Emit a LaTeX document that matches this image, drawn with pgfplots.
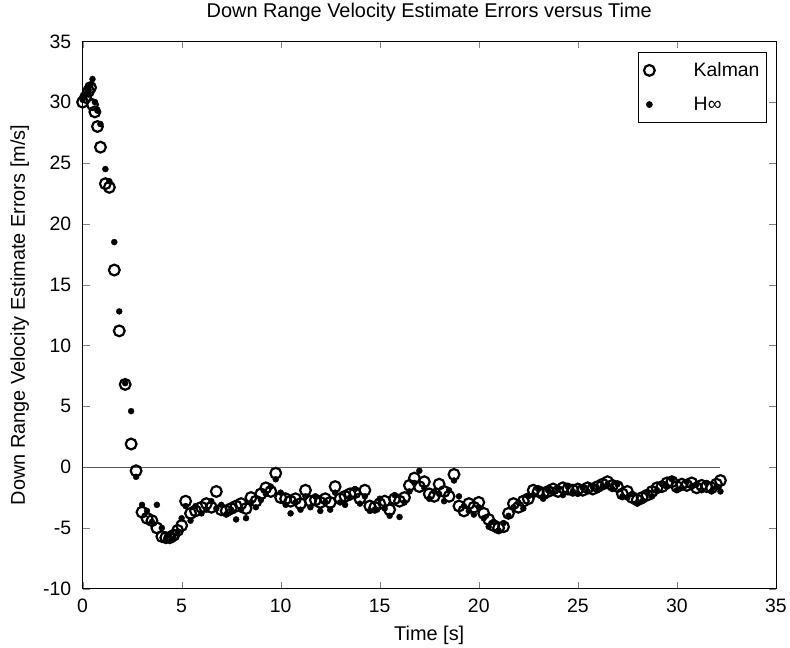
\documentclass[border=0pt]{standalone}
\usepackage{pgfplots}
\pgfplotsset{compat=1.18}
\usepackage{fontspec}
\setmainfont{Liberation Sans}
\begin{document}
\begin{tikzpicture}
\begin{axis}[
  scale only axis,
  width=694bp, height=548bp,
  xmin=0, xmax=35, ymin=-10, ymax=35,
  xtick={0,5,...,35}, ytick={-10,-5,...,35},
  tick align=inside,
  tick pos=both,
  major tick length=7bp,
  axis line style={line width=0.7pt},
  /pgf/number format/assume math mode=true,
  ticklabel style={font=\fontsize{19.5}{21}\selectfont},
  xticklabel style={yshift=-7bp},
  yticklabel style={xshift=-8bp},
  label style={font=\fontsize{20}{22}\selectfont},
  title style={font=\fontsize{20}{22}\selectfont, yshift=10bp},
  title={Down Range Velocity Estimate Errors versus Time},
  xlabel={Time [s]},
  ylabel={Down Range Velocity Estimate Errors [m/s]},
  xlabel style={yshift=-6bp},
  ylabel style={yshift=0bp, inner ysep=10.5bp},
  legend image code/.code={\draw[#1] plot coordinates {(0bp,0bp)};},
  legend style={at={(0.987,0.98)}, anchor=north east, draw=black, line width=0.7pt,
    font=\fontsize{19.5}{21}\selectfont, row sep=15bp, inner xsep=6bp, inner ysep=8bp,
    nodes={inner xsep=1bp},
    /tikz/every odd column/.append style={column sep=38bp},
    cells={anchor=west}},
  legend cell align=left,
]
\addplot[gray!70!black, line width=0.7pt, forget plot] coordinates {(0,0) (32.2,0)};
\addplot[only marks, mark=o, mark size=5.4bp, mark options={line width=2.2pt, black}] coordinates {
(0,30.0) (0.15,30.4) (0.3,30.9) (0.4,31.2) (0.5,29.8) (0.62,29.2) (0.75,28.0) (0.9,26.3)
(1.15,23.3) (1.35,23.0) (1.6,16.2) (1.85,11.2) (2.15,6.8) (2.45,1.9) (2.7,-0.3)
(3.0,-3.7) (3.25,-4.2) (3.5,-4.4) (3.75,-5.0) (4.0,-5.7) (4.2,-5.8) (4.4,-5.8) (4.6,-5.6)
(4.8,-5.2) (5.0,-4.8) (5.2,-2.8) (5.45,-3.8) (5.7,-3.6) (6.0,-3.3) (6.25,-3.0) (6.5,-3.3)
(6.75,-2.0) (7.0,-3.5) (7.25,-3.6) (7.5,-3.4) (7.75,-3.2) (8.0,-3.0) (8.25,-3.4) (8.5,-2.5)
(8.75,-2.8) (9.0,-2.2) (9.25,-1.7) (9.5,-2.0) (9.75,-0.5) (10.0,-2.5) (10.25,-2.6) (10.5,-2.8)
(10.75,-2.6) (11.0,-3.0) (11.25,-1.9) (11.5,-2.8) (11.75,-2.7) (12.0,-2.9) (12.25,-2.6) (12.5,-2.9)
(12.75,-1.6) (13.0,-2.6) (13.25,-2.4) (13.5,-2.2) (13.75,-2.1) (14.0,-2.6) (14.25,-1.9) (14.5,-3.2)
(14.75,-3.3) (15.0,-3.0) (15.25,-2.8) (15.5,-3.5) (15.75,-2.6) (16.0,-2.8) (16.25,-2.5) (16.5,-1.5)
(16.75,-0.9) (17.0,-1.6) (17.25,-1.2) (17.5,-2.2) (17.75,-2.4) (18.0,-1.4) (18.25,-2.0) (18.5,-2.4)
(18.75,-0.6) (19.0,-3.2) (19.25,-3.6) (19.5,-3.0) (19.75,-3.3) (20.0,-2.9) (20.25,-3.8) (20.5,-4.3)
(20.75,-4.8) (21.0,-5.0) (21.25,-4.9) (21.5,-3.8) (21.75,-3.0) (22.0,-3.3) (22.25,-2.8) (22.5,-2.6)
(22.75,-1.9) (23.0,-2.0) (23.25,-2.2) (23.5,-2.0) (23.75,-1.8) (24.0,-2.0) (24.25,-1.7) (24.5,-1.8)
(24.75,-1.9) (25.0,-1.8) (25.25,-1.9) (25.5,-1.7) (25.75,-1.8) (26.0,-1.6) (26.25,-1.4) (26.5,-1.2)
(26.75,-1.5) (27.0,-1.6) (27.25,-2.2) (27.5,-2.0) (27.75,-2.5) (28.0,-2.7) (28.25,-2.5) (28.5,-2.3)
(28.75,-2.0) (29.0,-1.7) (29.25,-1.6) (29.5,-1.3) (29.75,-1.2) (30.0,-1.6) (30.25,-1.4) (30.5,-1.5)
(30.75,-1.3) (31.0,-1.7) (31.25,-1.5) (31.5,-1.6) (31.75,-1.7) (32.0,-1.4) (32.2,-1.1)
};
\addlegendentry{Kalman}
\addplot[only marks, mark=*, mark size=3bp, mark options={black}] coordinates {
(0,30.2) (0.15,30.6) (0.3,31.0) (0.4,31.4) (0.5,31.9) (0.62,30.0) (0.75,29.3) (0.9,28.2)
(1.15,24.5) (1.35,23.5) (1.6,18.5) (1.85,12.8) (2.15,6.9) (2.45,4.6) (2.7,-0.8)
(3.0,-3.1) (3.25,-3.6) (3.5,-4.5) (3.75,-3.1) (4.0,-5.0) (4.2,-6.0) (4.4,-5.5) (4.6,-5.9)
(4.8,-5.3) (5.0,-4.2) (5.2,-3.2) (5.45,-4.4) (5.7,-3.2) (6.0,-3.8) (6.25,-3.5) (6.5,-2.8)
(6.75,-3.4) (7.0,-3.1) (7.25,-3.9) (7.5,-3.5) (7.75,-4.3) (8.0,-3.5) (8.25,-4.2) (8.5,-2.9)
(8.75,-3.3) (9.0,-2.7) (9.25,-2.2) (9.5,-1.6) (9.75,-1.0) (10.0,-2.1) (10.25,-3.1) (10.5,-3.8)
(10.75,-2.9) (11.0,-3.5) (11.25,-2.4) (11.5,-3.3) (11.75,-2.4) (12.0,-3.6) (12.25,-2.9) (12.5,-3.5)
(12.75,-2.1) (13.0,-2.9) (13.25,-3.1) (13.5,-2.5) (13.75,-1.8) (14.0,-3.0) (14.25,-2.4) (14.5,-3.6)
(14.75,-3.5) (15.0,-2.6) (15.25,-3.4) (15.5,-4.0) (15.75,-2.3) (16.0,-4.1) (16.25,-2.9) (16.5,-2.0)
(16.75,-1.3) (17.0,-0.3) (17.25,-1.7) (17.5,-2.6) (17.75,-2.0) (18.0,-2.2) (18.25,-2.8) (18.5,-1.9)
(18.75,-1.1) (19.0,-2.4) (19.25,-3.2) (19.5,-3.6) (19.75,-3.9) (20.0,-3.3) (20.25,-4.2) (20.5,-4.9)
(20.75,-4.5) (21.0,-5.2) (21.25,-4.6) (21.5,-4.0) (21.75,-3.3) (22.0,-2.9) (22.25,-3.4) (22.5,-2.4)
(22.75,-2.3) (23.0,-1.8) (23.25,-2.6) (23.5,-1.9) (23.75,-2.1) (24.0,-1.8) (24.25,-2.3) (24.5,-1.6)
(24.75,-2.0) (25.0,-2.2) (25.25,-1.7) (25.5,-2.0) (25.75,-1.6) (26.0,-1.9) (26.25,-1.6) (26.5,-1.4)
(26.75,-1.8) (27.0,-1.4) (27.25,-2.4) (27.5,-2.5) (27.75,-2.2) (28.0,-3.0) (28.25,-2.8) (28.5,-2.1)
(28.75,-2.4) (29.0,-1.9) (29.25,-1.4) (29.5,-1.6) (29.75,-1.0) (30.0,-1.9) (30.25,-1.7) (30.5,-1.2)
(30.75,-1.6) (31.0,-1.4) (31.25,-1.9) (31.5,-1.3) (31.75,-2.0) (32.0,-1.6) (32.2,-2.0)
};
\addlegendentry{H∞}
\end{axis}
\end{tikzpicture}
\end{document}
